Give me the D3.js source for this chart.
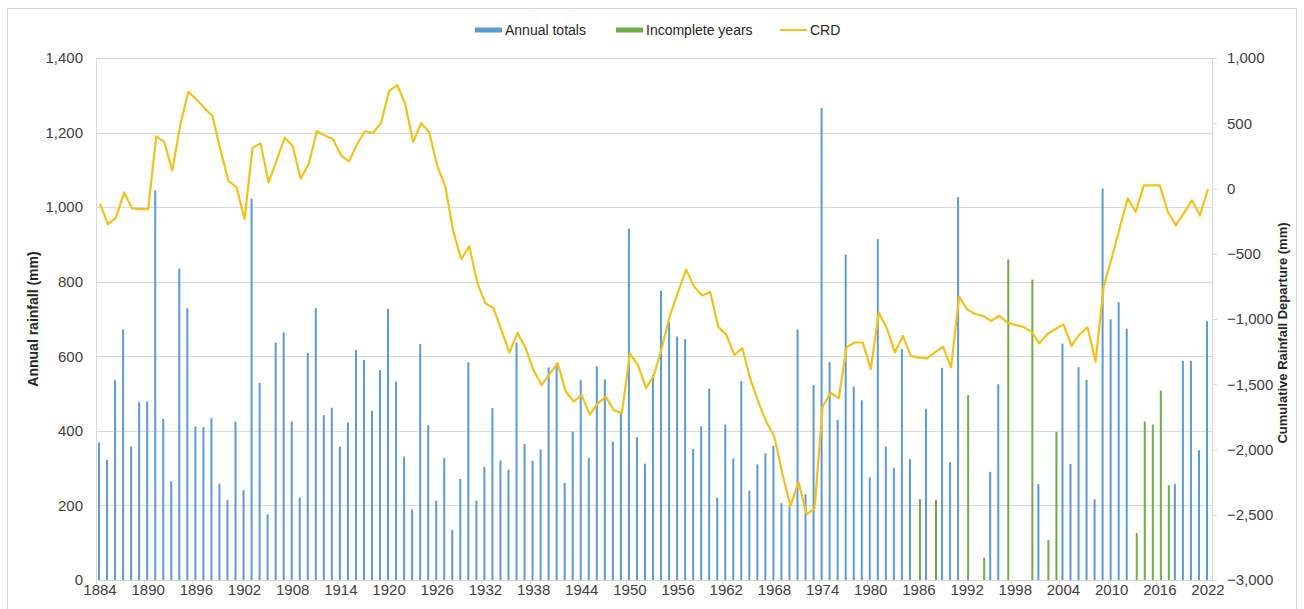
<!DOCTYPE html>
<html>
<head>
<meta charset="utf-8">
<script src="https://cdn.jsdelivr.net/npm/d3@7"></script>
<style>
  body { margin: 0; background: #fff; }
  svg { display: block; font-family: "Liberation Sans", Arial, sans-serif; }
</style>
</head>
<body>
<svg id="chart" width="1304" height="609"></svg>
<script>
// years 1884..2022
const firstYear = 1884;
const lastYear = 2022;

// annual totals (mm), null = no complete record
const annualTotals = [
  369, 322, 536, 672, 358, 477, 479, 1045, 432, 265,   // 1884-1893
  835, 729, 412, 410, 434, 258, 215, 425, 241, 1023,   // 1894-1903
  529, 176, 637, 664, 425, 221, 609, 729, 442, 462,    // 1904-1913
  358, 423, 617, 590, 454, 563, 727, 532, 331, 189,    // 1914-1923
  633, 415, 213, 327, 134, 271, 584, 213, 303, 461,    // 1924-1933
  321, 296, 637, 365, 320, 350, 570, 582, 260, 398,    // 1934-1943
  536, 327, 573, 538, 371, 453, 942, 383, 312, 550,    // 1944-1953
  776, 691, 653, 646, 351, 412, 513, 220, 417, 326,    // 1954-1963
  533, 240, 310, 340, 360, 206, 198, 672, 230, 523,    // 1964-1973
  1266, 584, 429, 873, 519, 482, 275, 914, 358, 300,   // 1974-1983
  619, 324, null, 459, null, 569, 316, 1027, null, null, // 1984-1993
  null, 290, 525, null, null, null, null, 257, null, null, // 1994-2003
  634, 311, 571, 537, 216, 1050, 699, 745, 674, null,  // 2004-2013
  null, null, null, null, 258, 588, 588, 348, 694      // 2014-2022
];

// incomplete years (mm)
const incompleteYears = [1986, 1988, 1992, 1994, 1997, 2000, 2002, 2003, 2013, 2014, 2015, 2016, 2017];
const incompleteValues = [217, 215, 496, 60, 860, 806, 107, 397, 126, 425, 417, 508, 254];

// cumulative rainfall departure (mm)
const crd = [
  -117, -275, -221, -30, -153, -158, -158, 400, 357, 139,     // 1884-1893
  488, 741, 684, 616, 556, 297, 57, 11, -234, 311,            // 1894-1903
  346, 46, 215, 390, 324, 74, 188, 439, 406, 379,             // 1904-1913
  256, 207, 338, 439, 425, 501, 747, 793, 651, 357,           // 1914-1923
  501, 433, 174, 16, -330, -540, -444, -725, -880, -916,      // 1924-1933
  -1085, -1256, -1106, -1224, -1393, -1507, -1420, -1338, -1556, -1632, // 1934-1943
  -1583, -1733, -1646, -1597, -1700, -1720, -1264, -1352, -1529, -1433, // 1944-1953
  -1215, -970, -793, -621, -752, -820, -793, -1060, -1120, -1275,      // 1954-1963
  -1224, -1461, -1638, -1788, -1902, -2190, -2433, -2247, -2497, -2451, // 1964-1973
  -1672, -1565, -1608, -1215, -1180, -1180, -1384, -951, -1071, -1256, // 1974-1983
  -1130, -1284, -1296, -1301, -1255, -1212, -1370, -829, -926, -962,   // 1984-1993
  -977, -1015, -975, -1028, -1046, -1060, -1097, -1186, -1115, -1077,  // 1994-2003
  -1041, -1205, -1117, -1064, -1327, -753, -535, -305, -75, -180,      // 2004-2013
  24, 24, 24, -180, -283, -188, -90, -207, -3                           // 2014-2022
];

const leftTicks = [0, 200, 400, 600, 800, 1000, 1200, 1400];
const rightTicks = [-3000, -2500, -2000, -1500, -1000, -500, 0, 500, 1000];
const labelYears = d3.range(firstYear, lastYear + 1, 6);

const years = d3.range(firstYear, lastYear + 1);

const svg = d3.select("#chart");
const margin = { top: 58, right: 92, bottom: 29, left: 96 };
const width = 1304, height = 609;
const innerWidth = width - margin.left - margin.right;
const innerHeight = height - margin.top - margin.bottom;

// chart frame
svg.append("rect")
  .attr("x", 7.5).attr("y", 8.5)
  .attr("width", 1289).attr("height", 620)
  .attr("fill", "none").attr("stroke", "#d9d9d9");

const g = svg.append("g").attr("transform", `translate(${margin.left},${margin.top})`);

const x = d3.scaleBand().domain(years).range([0, innerWidth]).padding(0);
const yLeft = d3.scaleLinear().domain([0, 1400]).range([innerHeight, 0]);
const yRight = d3.scaleLinear().domain([-3000, 1000]).range([innerHeight, 0]);

// gridlines
g.append("g")
  .selectAll("line")
  .data(leftTicks.slice(1))
  .enter().append("line")
  .attr("x1", 0).attr("x2", innerWidth)
  .attr("y1", d => Math.round(yLeft(d)) + 0.5)
  .attr("y2", d => Math.round(yLeft(d)) + 0.5)
  .attr("stroke", "#d9d9d9");

// left axis
const leftAxis = g.append("g")
  .call(d3.axisLeft(yLeft).tickValues(leftTicks).tickSize(0).tickPadding(13).tickFormat(d3.format(",")));
leftAxis.select(".domain").attr("stroke", "#d9d9d9");
leftAxis.selectAll("text").attr("font-size", 15).attr("fill", "#404040")
  .attr("font-family", "Liberation Sans, Arial, sans-serif");

// right axis
const rightAxis = g.append("g")
  .attr("transform", `translate(${innerWidth},0)`)
  .call(d3.axisRight(yRight).tickValues(rightTicks).tickSize(5).tickPadding(10).tickFormat(d3.format(",")));
rightAxis.select(".domain").attr("stroke", "#d9d9d9");
rightAxis.selectAll("line").attr("stroke", "#d9d9d9");
rightAxis.selectAll("text").attr("font-size", 15).attr("fill", "#404040")
  .attr("font-family", "Liberation Sans, Arial, sans-serif");

// bottom axis
const bottomAxis = g.append("g")
  .attr("transform", `translate(0,${innerHeight})`)
  .call(d3.axisBottom(x).tickValues(labelYears).tickSize(0).tickPadding(4));
bottomAxis.select(".domain").attr("stroke", "#d9d9d9");
bottomAxis.selectAll("text").attr("font-size", 15).attr("fill", "#404040")
  .attr("font-family", "Liberation Sans, Arial, sans-serif");
g.append("g")
  .selectAll("line")
  .data(labelYears)
  .enter().append("line")
  .attr("x1", d => Math.round(x(d)) + 0.5).attr("x2", d => Math.round(x(d)) + 0.5)
  .attr("y1", innerHeight).attr("y2", innerHeight + 4)
  .attr("stroke", "#d9d9d9");

// bars: annual totals
const barW = 2;
const blueData = years.map((yr, i) => ({ year: yr, value: annualTotals[i] })).filter(d => d.value != null);
g.append("g")
  .selectAll("rect")
  .data(blueData)
  .enter().append("rect")
  .attr("x", d => x(d.year) + x.bandwidth() / 2 - barW)
  .attr("width", barW)
  .attr("y", d => yLeft(d.value))
  .attr("height", d => yLeft(0) - yLeft(d.value))
  .attr("fill", "#5b9bd5");

// bars: incomplete years
const greenData = incompleteYears.map((yr, i) => ({ year: yr, value: incompleteValues[i] }));
g.append("g")
  .selectAll("rect")
  .data(greenData)
  .enter().append("rect")
  .attr("x", d => x(d.year) + x.bandwidth() / 2)
  .attr("width", barW)
  .attr("y", d => yLeft(d.value))
  .attr("height", d => yLeft(0) - yLeft(d.value))
  .attr("fill", "#70ad47");

// CRD line
const lineGenerator = d3.line()
  .x(d => x(d.year) + x.bandwidth() / 2)
  .y(d => yRight(d.value));
g.append("path")
  .datum(years.map((yr, i) => ({ year: yr, value: crd[i] })))
  .attr("fill", "none")
  .attr("stroke", "#f2c21b")
  .attr("stroke-width", 2.2)
  .attr("stroke-linejoin", "round")
  .attr("d", lineGenerator);

// axis titles
svg.append("text")
  .attr("transform", `translate(38,${margin.top + innerHeight / 2}) rotate(-90)`)
  .attr("text-anchor", "middle")
  .attr("font-size", 14).attr("font-weight", "bold").attr("fill", "#262626")
  .text("Annual rainfall (mm)");

svg.append("text")
  .attr("transform", `translate(1287,${margin.top + innerHeight / 2 + 14}) rotate(-90)`)
  .attr("text-anchor", "middle")
  .attr("font-size", 13).attr("font-weight", "bold").attr("fill", "#262626")
  .text("Cumulative Rainfall Departure (mm)");

// legend
const legendItems = [
  { name: "Annual totals", color: "#5b9bd5", type: "bar", x: 475 },
  { name: "Incomplete years", color: "#70ad47", type: "bar", x: 616 },
  { name: "CRD", color: "#f2c21b", type: "line", x: 780 }
];
const legend = svg.append("g")
  .selectAll("g")
  .data(legendItems)
  .enter().append("g")
  .attr("transform", d => `translate(${d.x},30)`);
legend.append("rect")
  .attr("x", 0).attr("y", d => d.type === "bar" ? -2.5 : -1)
  .attr("width", 27).attr("height", d => d.type === "bar" ? 5 : 2)
  .attr("fill", d => d.color);
legend.append("text")
  .attr("x", 30).attr("y", 0).attr("dy", "0.35em")
  .attr("font-size", 14).attr("fill", "#262626")
  .text(d => d.name);
</script>
</body>
</html>
